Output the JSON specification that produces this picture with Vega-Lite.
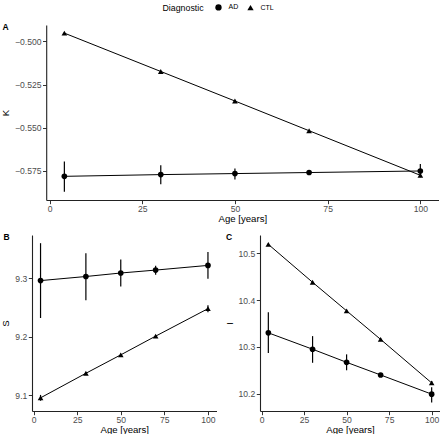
{
  "$schema": "https://vega.github.io/schema/vega-lite/v6.json",
  "padding": {"left": 0, "top": 3, "right": 0, "bottom": 0},
  "datasets": {
    "A": [
      {"age": 4, "val": -0.5781, "lo": -0.5870, "hi": -0.5695, "diag": "AD"},
      {"age": 30, "val": -0.5771, "lo": -0.5827, "hi": -0.5717, "diag": "AD"},
      {"age": 50, "val": -0.5765, "lo": -0.5800, "hi": -0.5736, "diag": "AD"},
      {"age": 70, "val": -0.5759, "lo": -0.5764, "hi": -0.5754, "diag": "AD"},
      {"age": 100, "val": -0.5750, "lo": -0.5787, "hi": -0.5709, "diag": "AD"},
      {"age": 4, "val": -0.4952, "lo": -0.4955, "hi": -0.4949, "diag": "CTL"},
      {"age": 30, "val": -0.5174, "lo": -0.5177, "hi": -0.5171, "diag": "CTL"},
      {"age": 50, "val": -0.5345, "lo": -0.5348, "hi": -0.5342, "diag": "CTL"},
      {"age": 70, "val": -0.5517, "lo": -0.5520, "hi": -0.5514, "diag": "CTL"},
      {"age": 100, "val": -0.5775, "lo": -0.5779, "hi": -0.5771, "diag": "CTL"}
    ],
    "B": [
      {"age": 4, "val": 9.296, "lo": 9.232, "hi": 9.360, "diag": "AD"},
      {"age": 30, "val": 9.303, "lo": 9.2625, "hi": 9.343, "diag": "AD"},
      {"age": 50, "val": 9.309, "lo": 9.286, "hi": 9.332, "diag": "AD"},
      {"age": 70, "val": 9.314, "lo": 9.306, "hi": 9.3216, "diag": "AD"},
      {"age": 100, "val": 9.322, "lo": 9.299, "hi": 9.345, "diag": "AD"},
      {"age": 4, "val": 9.0955, "lo": 9.0905, "hi": 9.1005, "diag": "CTL"},
      {"age": 30, "val": 9.1375, "lo": 9.1355, "hi": 9.1395, "diag": "CTL"},
      {"age": 50, "val": 9.169, "lo": 9.167, "hi": 9.171, "diag": "CTL"},
      {"age": 70, "val": 9.201, "lo": 9.199, "hi": 9.203, "diag": "CTL"},
      {"age": 100, "val": 9.248, "lo": 9.242, "hi": 9.254, "diag": "CTL"}
    ],
    "C": [
      {"age": 4, "val": 10.330, "lo": 10.287, "hi": 10.374, "diag": "AD"},
      {"age": 30, "val": 10.295, "lo": 10.266, "hi": 10.323, "diag": "AD"},
      {"age": 50, "val": 10.267, "lo": 10.250, "hi": 10.284, "diag": "AD"},
      {"age": 70, "val": 10.240, "lo": 10.236, "hi": 10.244, "diag": "AD"},
      {"age": 100, "val": 10.199, "lo": 10.181, "hi": 10.214, "diag": "AD"},
      {"age": 4, "val": 10.519, "lo": 10.517, "hi": 10.521, "diag": "CTL"},
      {"age": 30, "val": 10.438, "lo": 10.436, "hi": 10.440, "diag": "CTL"},
      {"age": 50, "val": 10.377, "lo": 10.375, "hi": 10.379, "diag": "CTL"},
      {"age": 70, "val": 10.316, "lo": 10.314, "hi": 10.318, "diag": "CTL"},
      {"age": 100, "val": 10.223, "lo": 10.219, "hi": 10.227, "diag": "CTL"}
    ]
  },
  "spacing": 35,
  "bounds": "flush",
  "vconcat": [
    {
      "width": 406.5,
      "height": 175,
      "data": {"name": "A"},
      "title": {"text": "A", "dx": -29.5},
      "encoding": {
        "x": {"field": "age", "type": "quantitative", "scale": {"domain": [-0.9, 104.9], "range": [14.2, 406.5], "nice": false, "zero": false}, "axis": {"values": [0, 25, 50, 75, 100], "title": "Age [years]"}},
        "y": {"field": "val", "type": "quantitative", "scale": {"domain": [-0.5918, -0.4905], "nice": false, "zero": false}, "axis": {"values": [-0.5, -0.525, -0.55, -0.575], "format": ".3f", "title": "K", "offset": -14.2}}
      },
      "layer": [
        {"mark": {"type": "line", "color": "black", "strokeWidth": 1}, "encoding": {"detail": {"field": "diag", "type": "nominal"}}},
        {"mark": {"type": "rule", "color": "black", "strokeWidth": 1.2}, "encoding": {"y": {"field": "lo", "type": "quantitative"}, "y2": {"field": "hi"}}},
        {"mark": {"type": "point", "filled": true, "opacity": 1, "color": "black", "size": 32}, "encoding": {"shape": {"field": "diag", "type": "nominal", "title": "Diagnostic", "scale": {"domain": ["AD", "CTL"], "range": ["circle", "triangle-up"]}}}}
      ]
    },
    {
      "spacing": 43,
      "bounds": "flush",
      "hconcat": [
        {
          "width": 184.5,
          "height": 176,
          "data": {"name": "B"},
          "title": {"text": "B", "dx": -28.5},
          "encoding": {
            "x": {"field": "age", "type": "quantitative", "scale": {"domain": [-0.9, 104.9], "nice": false, "zero": false}, "axis": {"values": [0, 25, 50, 75, 100], "title": "Age [years]"}},
            "y": {"field": "val", "type": "quantitative", "scale": {"domain": [9.073, 9.374], "nice": false, "zero": false}, "axis": {"values": [9.1, 9.2, 9.3], "format": ".1f", "title": "S"}}
          },
          "layer": [
            {"mark": {"type": "line", "color": "black", "strokeWidth": 1}, "encoding": {"detail": {"field": "diag", "type": "nominal"}}},
            {"mark": {"type": "rule", "color": "black", "strokeWidth": 1.2}, "encoding": {"y": {"field": "lo", "type": "quantitative"}, "y2": {"field": "hi"}}},
            {"mark": {"type": "point", "filled": true, "opacity": 1, "color": "black", "size": 32}, "encoding": {"shape": {"field": "diag", "type": "nominal", "title": "Diagnostic", "scale": {"domain": ["AD", "CTL"], "range": ["circle", "triangle-up"]}}}}
          ]
        },
        {
          "width": 180,
          "height": 176,
          "data": {"name": "C"},
          "title": {"text": "C", "dx": -34},
          "encoding": {
            "x": {"field": "age", "type": "quantitative", "scale": {"domain": [-0.9, 104.9], "nice": false, "zero": false}, "axis": {"values": [0, 25, 50, 75, 100], "title": "Age [years]"}},
            "y": {"field": "val", "type": "quantitative", "scale": {"domain": [10.163, 10.539], "nice": false, "zero": false}, "axis": {"values": [10.2, 10.3, 10.4, 10.5], "format": ".1f", "title": "I"}}
          },
          "layer": [
            {"mark": {"type": "line", "color": "black", "strokeWidth": 1}, "encoding": {"detail": {"field": "diag", "type": "nominal"}}},
            {"mark": {"type": "rule", "color": "black", "strokeWidth": 1.2}, "encoding": {"y": {"field": "lo", "type": "quantitative"}, "y2": {"field": "hi"}}},
            {"mark": {"type": "point", "filled": true, "opacity": 1, "color": "black", "size": 32}, "encoding": {"shape": {"field": "diag", "type": "nominal", "title": "Diagnostic", "scale": {"domain": ["AD", "CTL"], "range": ["circle", "triangle-up"]}}}}
          ]
        }
      ]
    }
  ],
  "config": {
    "font": "Liberation Sans",
    "view": {"stroke": null},
    "title": {"anchor": "start", "frame": "group", "fontSize": 8.5, "fontWeight": "bold", "color": "black", "offset": 0, "baseline": "top", "dy": 10.5},
    "axis": {
      "grid": false,
      "domainColor": "#222222",
      "domainWidth": 1.1,
      "tickColor": "#333333",
      "tickWidth": 1,
      "tickSize": 3.7,
      "labelFontSize": 8.6,
      "labelColor": "#4d4d4d",
      "labelPadding": 1.5,
      "titleFontSize": 9.6,
      "titleFontWeight": "normal",
      "titleColor": "black",
      "titlePadding": 4
    },
    "axisX": {"titlePadding": 0.5, "labelPadding": 0.5},
    "legend": {
      "orient": "none",
      "legendX": 130.5,
      "legendY": -22,
      "direction": "horizontal",
      "titleOrient": "left",
      "titleFontSize": 8.8,
      "titleFontWeight": "normal",
      "titleColor": "black",
      "titlePadding": 10,
      "labelFontSize": 7,
      "labelColor": "black",
      "labelOffset": 6,
      "columnPadding": 6,
      "symbolSize": 40,
      "symbolStrokeWidth": 1,
      "symbolFillColor": "black",
      "symbolStrokeColor": "black",
      "padding": 0
    }
  }
}
